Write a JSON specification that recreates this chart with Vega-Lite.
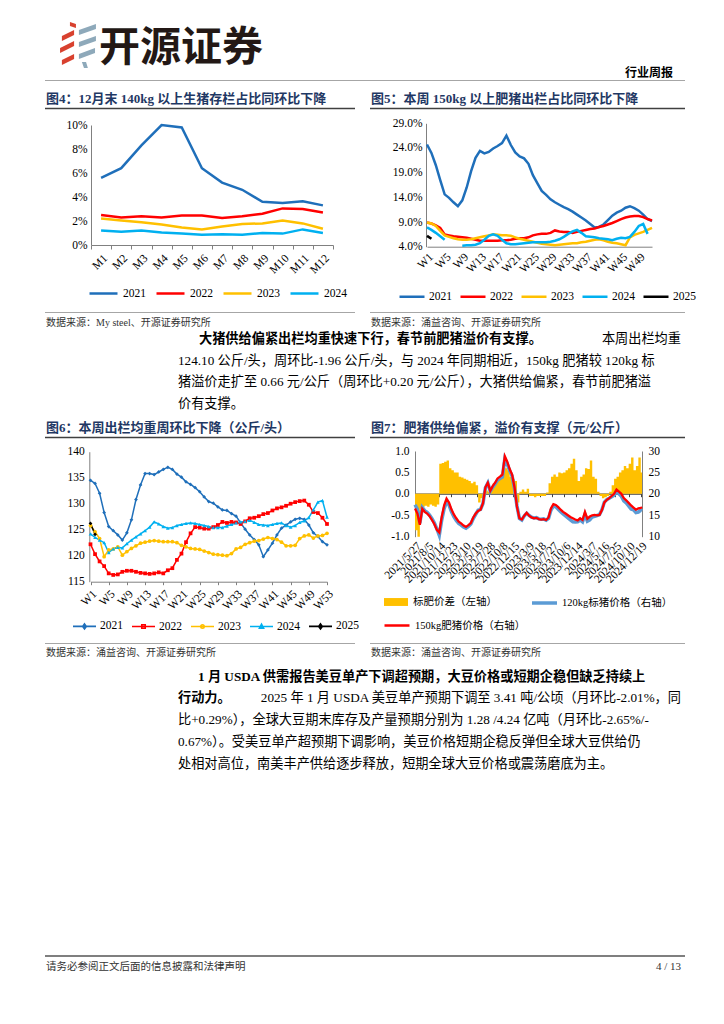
{
"$schema":"https://vega.github.io/schema/vega-lite/v6.json",
"width":724,"height":1024,"autosize":{"type":"none"},"padding":0,"background":"white",
"data":{"values":[{}]},
"config":{"view":{"stroke":null},
"axis":{"grid":false,"labelFont":"Liberation Serif","labelFontSize":11.5,"labelColor":"#000000","domainColor":"#808080","tickColor":"#808080","labelFlush":false,"labelOverlap":false,"labelBound":false,"title":null},
"legend":{"labelFont":"Liberation Serif, Noto Sans CJK SC","labelFontSize":11.5,"labelColor":"#000000","padding":0,"title":null}},
"resolve":{"scale":{"x":"independent","y":"independent","color":"independent","shape":"independent"},"axis":{"x":"independent","y":"independent"},"legend":{"color":"independent","shape":"independent"}},
"layer":[
{"mark":{"type":"point","filled":true,"color":"#D8412F","opacity":1,"shape":"M-0.70,-0.35L-0.17,-0.61L-0.17,-0.39L-0.70,-0.13Z M-0.78,0.17L-0.17,-0.13L-0.17,0.09L-0.78,0.39Z M-0.70,0.70L-0.17,0.43L-0.17,0.65L-0.70,0.91Z M-0.35,-0.96L-0.09,-0.87L-0.09,-0.70L-0.35,-0.78Z"},"encoding":{"x":{"value":78},"y":{"value":44},"size":{"value":2116}}},
{"mark":{"type":"point","filled":true,"color":"#8EA9BA","opacity":1,"shape":"M0.04,-0.61L0.78,-0.87L0.78,-0.65L0.04,-0.39Z M0.04,-0.09L0.78,-0.35L0.78,-0.13L0.04,0.13Z M0.04,0.43L0.74,0.17L0.74,0.39L0.04,0.65Z M0.17,0.78L0.35,0.78L0.43,1.04L0.26,1.04Z"},"encoding":{"x":{"value":78},"y":{"value":44},"size":{"value":2116}}},
{"mark":{"type":"text","align":"left","baseline":"alphabetic","font":"Noto Sans CJK SC","fontSize":41,"fontWeight":"bold","color":"#231815"},"encoding":{"x":{"value":99},"y":{"value":61},"text":{"value":"开源证券"}}},
{"mark":{"type":"text","align":"right","baseline":"alphabetic","font":"Noto Sans CJK SC","fontSize":12,"fontWeight":"bold","color":"#000000"},"encoding":{"x":{"value":673},"y":{"value":77},"text":{"value":"行业周报"}}},
{"mark":{"type":"rule","color":"#A6A6A6","strokeWidth":1.2},"encoding":{"x":{"value":45},"x2":{"value":685},"y":{"value":80.5}}},

{"mark":{"type":"text","align":"left","baseline":"alphabetic","font":"Liberation Serif, Noto Sans CJK SC","fontSize":13,"fontWeight":"bold","color":"#1F3864"},"encoding":{"x":{"value":46},"y":{"value":102.5},"text":{"value":"图4：12月末 140kg 以上生猪存栏占比同环比下降"}}},
{"mark":{"type":"text","align":"left","baseline":"alphabetic","font":"Liberation Serif, Noto Sans CJK SC","fontSize":13,"fontWeight":"bold","color":"#1F3864"},"encoding":{"x":{"value":371},"y":{"value":102.5},"text":{"value":"图5：本周 150kg 以上肥猪出栏占比同环比下降"}}},
{"mark":{"type":"rule","color":"#404040","strokeWidth":1.3},"encoding":{"x":{"value":45},"x2":{"value":355},"y":{"value":108.5}}},
{"mark":{"type":"rule","color":"#404040","strokeWidth":1.3},"encoding":{"x":{"value":370},"x2":{"value":685},"y":{"value":108.5}}},
{"mark":{"type":"rule","color":"#A6A6A6","strokeWidth":1},"encoding":{"x":{"value":45},"x2":{"value":355},"y":{"value":312.5}}},
{"mark":{"type":"rule","color":"#A6A6A6","strokeWidth":1},"encoding":{"x":{"value":370},"x2":{"value":685},"y":{"value":312.5}}},
{"mark":{"type":"text","align":"left","baseline":"alphabetic","font":"Liberation Serif, Noto Sans CJK SC","fontSize":10,"color":"#333333"},"encoding":{"x":{"value":46},"y":{"value":325.5},"text":{"value":"数据来源：My steel、开源证券研究所"}}},
{"mark":{"type":"text","align":"left","baseline":"alphabetic","font":"Liberation Serif, Noto Sans CJK SC","fontSize":10,"color":"#333333"},"encoding":{"x":{"value":371},"y":{"value":325.5},"text":{"value":"数据来源：涌益咨询、开源证券研究所"}}},

{"mark":{"type":"text","align":"left","baseline":"alphabetic","font":"Liberation Serif, Noto Sans CJK SC","fontSize":13.2,"fontWeight":"bold","color":"#000000"},"encoding":{"x":{"value":199},"y":{"value":342.5},"text":{"value":"大猪供给偏紧出栏均重快速下行，春节前肥猪溢价有支撑。"}}},
{"mark":{"type":"text","align":"right","baseline":"alphabetic","font":"Liberation Serif, Noto Sans CJK SC","fontSize":13.2,"color":"#000000"},"encoding":{"x":{"value":681},"y":{"value":342.5},"text":{"value":"本周出栏均重"}}},
{"mark":{"type":"text","align":"left","baseline":"alphabetic","font":"Liberation Serif, Noto Sans CJK SC","fontSize":13.2,"lineHeight":21.8,"color":"#000000"},"encoding":{"x":{"value":178},"y":{"value":364.5},"text":{"value":["124.10 公斤/头，周环比-1.96 公斤/头，与 2024 年同期相近，150kg 肥猪较 120kg 标","猪溢价走扩至 0.66 元/公斤（周环比+0.20 元/公斤），大猪供给偏紧，春节前肥猪溢","价有支撑。"]}}},

{"mark":{"type":"text","align":"left","baseline":"alphabetic","font":"Liberation Serif, Noto Sans CJK SC","fontSize":13,"fontWeight":"bold","color":"#1F3864"},"encoding":{"x":{"value":46},"y":{"value":431.5},"text":{"value":"图6：本周出栏均重周环比下降（公斤/头）"}}},
{"mark":{"type":"text","align":"left","baseline":"alphabetic","font":"Liberation Serif, Noto Sans CJK SC","fontSize":13,"fontWeight":"bold","color":"#1F3864"},"encoding":{"x":{"value":371},"y":{"value":431.5},"text":{"value":"图7：肥猪供给偏紧，溢价有支撑（元/公斤）"}}},
{"mark":{"type":"rule","color":"#404040","strokeWidth":1.3},"encoding":{"x":{"value":45},"x2":{"value":355},"y":{"value":437.5}}},
{"mark":{"type":"rule","color":"#404040","strokeWidth":1.3},"encoding":{"x":{"value":370},"x2":{"value":685},"y":{"value":437.5}}},
{"mark":{"type":"rule","color":"#A6A6A6","strokeWidth":1},"encoding":{"x":{"value":45},"x2":{"value":355},"y":{"value":643.5}}},
{"mark":{"type":"rule","color":"#A6A6A6","strokeWidth":1},"encoding":{"x":{"value":370},"x2":{"value":685},"y":{"value":643.5}}},
{"mark":{"type":"text","align":"left","baseline":"alphabetic","font":"Liberation Serif, Noto Sans CJK SC","fontSize":10,"color":"#333333"},"encoding":{"x":{"value":46},"y":{"value":655.5},"text":{"value":"数据来源：涌益咨询、开源证券研究所"}}},
{"mark":{"type":"text","align":"left","baseline":"alphabetic","font":"Liberation Serif, Noto Sans CJK SC","fontSize":10,"color":"#333333"},"encoding":{"x":{"value":371},"y":{"value":655.5},"text":{"value":"数据来源：涌益咨询、开源证券研究所"}}},

{"mark":{"type":"text","align":"left","baseline":"alphabetic","font":"Liberation Serif, Noto Sans CJK SC","fontSize":13.2,"fontWeight":"bold","color":"#000000"},"encoding":{"x":{"value":198},"y":{"value":680.5},"text":{"value":"1 月 USDA 供需报告美豆单产下调超预期，大豆价格或短期企稳但缺乏持续上"}}},
{"mark":{"type":"text","align":"left","baseline":"alphabetic","font":"Liberation Serif, Noto Sans CJK SC","fontSize":13.2,"fontWeight":"bold","color":"#000000"},"encoding":{"x":{"value":178},"y":{"value":702.3},"text":{"value":"行动力。"}}},
{"mark":{"type":"text","align":"right","baseline":"alphabetic","font":"Liberation Serif, Noto Sans CJK SC","fontSize":13.2,"color":"#000000"},"encoding":{"x":{"value":681},"y":{"value":702.3},"text":{"value":"2025 年 1 月 USDA 美豆单产预期下调至 3.41 吨/公顷（月环比-2.01%，同"}}},
{"mark":{"type":"text","align":"left","baseline":"alphabetic","font":"Liberation Serif, Noto Sans CJK SC","fontSize":13.2,"lineHeight":21.8,"color":"#000000"},"encoding":{"x":{"value":178},"y":{"value":724.1},"text":{"value":["比+0.29%），全球大豆期末库存及产量预期分别为 1.28 /4.24 亿吨（月环比-2.65%/-","0.67%）。受美豆单产超预期下调影响，美豆价格短期企稳反弹但全球大豆供给仍","处相对高位，南美丰产供给逐步释放，短期全球大豆价格或震荡磨底为主。"]}}},

{"mark":{"type":"rule","color":"#7F7F7F","strokeWidth":2},"encoding":{"x":{"value":45},"x2":{"value":685},"y":{"value":956}}},
{"mark":{"type":"text","align":"left","baseline":"alphabetic","font":"Liberation Serif, Noto Sans CJK SC","fontSize":10.5,"color":"#333333"},"encoding":{"x":{"value":46},"y":{"value":970},"text":{"value":"请务必参阅正文后面的信息披露和法律声明"}}},
{"mark":{"type":"text","align":"right","baseline":"alphabetic","font":"Liberation Serif","fontSize":11,"color":"#333333"},"encoding":{"x":{"value":681},"y":{"value":970},"text":{"value":"4 / 13"}}},

{"data":{"values":[
{"m":"M1","y":"2021","v":5.6},{"m":"M2","y":"2021","v":6.4},{"m":"M3","y":"2021","v":8.3},{"m":"M4","y":"2021","v":10.0},{"m":"M5","y":"2021","v":9.8},{"m":"M6","y":"2021","v":6.4},{"m":"M7","y":"2021","v":5.2},{"m":"M8","y":"2021","v":4.6},{"m":"M9","y":"2021","v":3.6},{"m":"M10","y":"2021","v":3.5},{"m":"M11","y":"2021","v":3.65},{"m":"M12","y":"2021","v":3.3},
{"m":"M1","y":"2022","v":2.5},{"m":"M2","y":"2022","v":2.3},{"m":"M3","y":"2022","v":2.4},{"m":"M4","y":"2022","v":2.3},{"m":"M5","y":"2022","v":2.45},{"m":"M6","y":"2022","v":2.45},{"m":"M7","y":"2022","v":2.25},{"m":"M8","y":"2022","v":2.4},{"m":"M9","y":"2022","v":2.6},{"m":"M10","y":"2022","v":3.05},{"m":"M11","y":"2022","v":3.0},{"m":"M12","y":"2022","v":2.7},
{"m":"M1","y":"2023","v":2.2},{"m":"M2","y":"2023","v":2.05},{"m":"M3","y":"2023","v":1.9},{"m":"M4","y":"2023","v":1.7},{"m":"M5","y":"2023","v":1.45},{"m":"M6","y":"2023","v":1.3},{"m":"M7","y":"2023","v":1.55},{"m":"M8","y":"2023","v":1.75},{"m":"M9","y":"2023","v":1.8},{"m":"M10","y":"2023","v":2.05},{"m":"M11","y":"2023","v":1.8},{"m":"M12","y":"2023","v":1.35},
{"m":"M1","y":"2024","v":1.2},{"m":"M2","y":"2024","v":1.1},{"m":"M3","y":"2024","v":1.2},{"m":"M4","y":"2024","v":1.05},{"m":"M5","y":"2024","v":0.95},{"m":"M6","y":"2024","v":0.85},{"m":"M7","y":"2024","v":0.9},{"m":"M8","y":"2024","v":0.85},{"m":"M9","y":"2024","v":1.0},{"m":"M10","y":"2024","v":0.95},{"m":"M11","y":"2024","v":1.3},{"m":"M12","y":"2024","v":1.0}]},
"mark":{"type":"line","strokeWidth":2.5},
"encoding":{
"x":{"field":"m","type":"ordinal","sort":null,"title":null,"scale":{"type":"band","range":[91,333],"paddingInner":0,"paddingOuter":0},"axis":{"orient":"bottom","offset":-779,"labelAngle":-45,"tickBand":"extent","ticks":true,"tickSize":4,"labelPadding":3}},
"y":{"field":"v","type":"quantitative","title":null,"scale":{"domain":[0,10],"range":[245,125],"nice":false,"zero":false},"axis":{"orient":"left","offset":-91,"values":[0,2,4,6,8,10],"labelExpr":"datum.value + '%'","ticks":false,"labelPadding":4}},
"color":{"field":"y","type":"nominal","title":null,"scale":{"domain":["2021","2022","2023","2024"],"range":["#1F6FBA","#FF0000","#FFC000","#00B0F0"]},"legend":{"orient":"none","legendX":88,"legendY":278,"direction":"horizontal","symbolType":"stroke","symbolSize":784,"symbolStrokeWidth":2.5,"labelOffset":4,"columnPadding":5}}}},

{"data":{"values":[
{"w":1,"y":"2021","v":24.7},{"w":2,"y":"2021","v":23},{"w":3,"y":"2021","v":20.5},{"w":4,"y":"2021","v":17.5},{"w":5,"y":"2021","v":14.6},{"w":6,"y":"2021","v":13.9},{"w":7,"y":"2021","v":13},{"w":8,"y":"2021","v":12.2},{"w":9,"y":"2021","v":13.4},{"w":10,"y":"2021","v":16},{"w":11,"y":"2021","v":19.3},{"w":12,"y":"2021","v":22},{"w":13,"y":"2021","v":23.4},{"w":14,"y":"2021","v":22.9},{"w":15,"y":"2021","v":23.2},{"w":16,"y":"2021","v":23.9},{"w":17,"y":"2021","v":24.4},{"w":18,"y":"2021","v":25},{"w":19,"y":"2021","v":26.5},{"w":20,"y":"2021","v":24.6},{"w":21,"y":"2021","v":23.1},{"w":22,"y":"2021","v":22.3},{"w":23,"y":"2021","v":21.9},{"w":24,"y":"2021","v":20.8},{"w":25,"y":"2021","v":18.5},{"w":26,"y":"2021","v":16.9},{"w":27,"y":"2021","v":15.3},{"w":28,"y":"2021","v":14.5},{"w":29,"y":"2021","v":13.6},{"w":30,"y":"2021","v":13},{"w":31,"y":"2021","v":12.5},{"w":32,"y":"2021","v":12},{"w":33,"y":"2021","v":11.6},{"w":34,"y":"2021","v":11.1},{"w":35,"y":"2021","v":10.5},{"w":36,"y":"2021","v":9.9},{"w":37,"y":"2021","v":9.3},{"w":38,"y":"2021","v":8.6},{"w":39,"y":"2021","v":7.9},{"w":40,"y":"2021","v":8},{"w":41,"y":"2021","v":8.5},{"w":42,"y":"2021","v":9.4},{"w":43,"y":"2021","v":10.3},{"w":44,"y":"2021","v":10.9},{"w":45,"y":"2021","v":11.3},{"w":46,"y":"2021","v":11.9},{"w":47,"y":"2021","v":12.2},{"w":48,"y":"2021","v":11.8},{"w":49,"y":"2021","v":11.3},{"w":50,"y":"2021","v":10.5},{"w":51,"y":"2021","v":9.6},{"w":52,"y":"2021","v":9.2},
{"w":1,"y":"2022","v":8.9},{"w":2,"y":"2022","v":8.7},{"w":3,"y":"2022","v":8.3},{"w":4,"y":"2022","v":7.8},{"w":5,"y":"2022","v":6.5},{"w":6,"y":"2022","v":6.3},{"w":7,"y":"2022","v":6.1},{"w":8,"y":"2022","v":6},{"w":9,"y":"2022","v":5.9},{"w":10,"y":"2022","v":5.8},{"w":11,"y":"2022","v":5.6},{"w":12,"y":"2022","v":5.4},{"w":13,"y":"2022","v":5.2},{"w":14,"y":"2022","v":5.2},{"w":15,"y":"2022","v":5.2},{"w":16,"y":"2022","v":5.2},{"w":17,"y":"2022","v":5.2},{"w":18,"y":"2022","v":5.3},{"w":19,"y":"2022","v":5.3},{"w":20,"y":"2022","v":5.4},{"w":21,"y":"2022","v":5.6},{"w":22,"y":"2022","v":5.7},{"w":23,"y":"2022","v":5.7},{"w":24,"y":"2022","v":5.9},{"w":25,"y":"2022","v":6.3},{"w":26,"y":"2022","v":6.5},{"w":27,"y":"2022","v":6.6},{"w":28,"y":"2022","v":6.6},{"w":29,"y":"2022","v":6.8},{"w":30,"y":"2022","v":7.3},{"w":31,"y":"2022","v":7.1},{"w":32,"y":"2022","v":7},{"w":33,"y":"2022","v":7},{"w":34,"y":"2022","v":6.8},{"w":35,"y":"2022","v":7},{"w":36,"y":"2022","v":7.2},{"w":37,"y":"2022","v":7.4},{"w":38,"y":"2022","v":7.6},{"w":39,"y":"2022","v":7.7},{"w":40,"y":"2022","v":8},{"w":41,"y":"2022","v":8.2},{"w":42,"y":"2022","v":8.5},{"w":43,"y":"2022","v":8.8},{"w":44,"y":"2022","v":9.2},{"w":45,"y":"2022","v":9.6},{"w":46,"y":"2022","v":9.9},{"w":47,"y":"2022","v":10.1},{"w":48,"y":"2022","v":10.2},{"w":49,"y":"2022","v":10.2},{"w":50,"y":"2022","v":10},{"w":51,"y":"2022","v":9.6},{"w":52,"y":"2022","v":9.3},
{"w":1,"y":"2023","v":8.9},{"w":2,"y":"2023","v":8.7},{"w":3,"y":"2023","v":8.2},{"w":4,"y":"2023","v":7.2},{"w":5,"y":"2023","v":6.3},{"w":6,"y":"2023","v":6},{"w":7,"y":"2023","v":5.7},{"w":8,"y":"2023","v":5.5},{"w":9,"y":"2023","v":5.4},{"w":10,"y":"2023","v":5.4},{"w":11,"y":"2023","v":5.5},{"w":12,"y":"2023","v":5.7},{"w":13,"y":"2023","v":5.9},{"w":14,"y":"2023","v":6.1},{"w":15,"y":"2023","v":6.3},{"w":16,"y":"2023","v":6.5},{"w":17,"y":"2023","v":6.4},{"w":18,"y":"2023","v":6.3},{"w":19,"y":"2023","v":6.3},{"w":20,"y":"2023","v":6.2},{"w":21,"y":"2023","v":5.9},{"w":22,"y":"2023","v":5.6},{"w":23,"y":"2023","v":5.4},{"w":24,"y":"2023","v":5.2},{"w":25,"y":"2023","v":5},{"w":26,"y":"2023","v":4.8},{"w":27,"y":"2023","v":4.6},{"w":28,"y":"2023","v":4.5},{"w":29,"y":"2023","v":4.4},{"w":30,"y":"2023","v":4.3},{"w":31,"y":"2023","v":4.4},{"w":32,"y":"2023","v":4.5},{"w":33,"y":"2023","v":4.6},{"w":34,"y":"2023","v":4.7},{"w":35,"y":"2023","v":4.7},{"w":36,"y":"2023","v":4.9},{"w":37,"y":"2023","v":5},{"w":38,"y":"2023","v":5.2},{"w":39,"y":"2023","v":5.4},{"w":40,"y":"2023","v":5.5},{"w":41,"y":"2023","v":5.3},{"w":42,"y":"2023","v":5},{"w":43,"y":"2023","v":4.8},{"w":44,"y":"2023","v":4.7},{"w":45,"y":"2023","v":4.5},{"w":46,"y":"2023","v":4.3},{"w":47,"y":"2023","v":5.9},{"w":48,"y":"2023","v":6.4},{"w":49,"y":"2023","v":6.7},{"w":50,"y":"2023","v":7},{"w":51,"y":"2023","v":7.4},{"w":52,"y":"2023","v":7.8},
{"w":1,"y":"2024","g":"a","v":7.9},{"w":2,"y":"2024","g":"a","v":7.4},{"w":3,"y":"2024","g":"a","v":6.8},{"w":4,"y":"2024","g":"a","v":6.1},{"w":5,"y":"2024","g":"a","v":5.4},
{"w":9,"y":"2024","g":"b","v":4.2},{"w":10,"y":"2024","g":"b","v":4.3},{"w":11,"y":"2024","g":"b","v":4.3},{"w":12,"y":"2024","g":"b","v":4.4},{"w":13,"y":"2024","g":"b","v":4.7},{"w":14,"y":"2024","g":"b","v":5.4},{"w":15,"y":"2024","g":"b","v":6.2},{"w":16,"y":"2024","g":"b","v":6.5},{"w":17,"y":"2024","g":"b","v":6.2},{"w":18,"y":"2024","g":"b","v":5.4},{"w":19,"y":"2024","g":"b","v":4.7},{"w":20,"y":"2024","g":"b","v":4.5},{"w":21,"y":"2024","g":"b","v":4.5},{"w":22,"y":"2024","g":"b","v":4.6},{"w":23,"y":"2024","g":"b","v":4.7},{"w":24,"y":"2024","g":"b","v":4.8},{"w":25,"y":"2024","g":"b","v":4.9},{"w":26,"y":"2024","g":"b","v":4.9},{"w":27,"y":"2024","g":"b","v":4.9},{"w":28,"y":"2024","g":"b","v":4.9},{"w":29,"y":"2024","g":"b","v":5},{"w":30,"y":"2024","g":"b","v":5.2},{"w":31,"y":"2024","g":"b","v":5.5},{"w":32,"y":"2024","g":"b","v":6},{"w":33,"y":"2024","g":"b","v":6.6},{"w":34,"y":"2024","g":"b","v":7.1},{"w":35,"y":"2024","g":"b","v":7.4},{"w":36,"y":"2024","g":"b","v":6.8},{"w":37,"y":"2024","g":"b","v":6.1},{"w":38,"y":"2024","g":"b","v":6},{"w":39,"y":"2024","g":"b","v":5.9},{"w":40,"y":"2024","g":"b","v":5.7},{"w":41,"y":"2024","g":"b","v":5.6},{"w":42,"y":"2024","g":"b","v":5.5},{"w":43,"y":"2024","g":"b","v":5.3},{"w":44,"y":"2024","g":"b","v":5.6},{"w":45,"y":"2024","g":"b","v":5.8},{"w":46,"y":"2024","g":"b","v":5.7},{"w":47,"y":"2024","g":"b","v":6},{"w":48,"y":"2024","g":"b","v":7},{"w":49,"y":"2024","g":"b","v":8.2},{"w":50,"y":"2024","g":"b","v":8.6},{"w":51,"y":"2024","g":"b","v":6.6},
{"w":1,"y":"2025","v":6.2},{"w":2,"y":"2025","v":5.6}]},
"mark":{"type":"line","strokeWidth":2.5},
"encoding":{
"x":{"field":"w","type":"quantitative","title":null,"scale":{"domain":[1,52],"range":[427,652],"nice":false,"zero":false},"axis":{"orient":"bottom","offset":-777.3,"values":[1,5,9,13,17,21,25,29,33,37,41,45,49],"labelExpr":"'W' + datum.value","labelAngle":-45,"ticks":false,"labelPadding":4}},
"y":{"field":"v","type":"quantitative","title":null,"scale":{"domain":[4,29],"range":[246.7,123.3],"nice":false,"zero":false},"axis":{"orient":"left","offset":-426,"values":[4,9,14,19,24,29],"labelExpr":"format(datum.value, '.1f') + '%'","ticks":false,"labelPadding":4}},
"detail":{"field":"g"},
"color":{"field":"y","type":"nominal","title":null,"scale":{"domain":["2021","2022","2023","2024","2025"],"range":["#1F6FBA","#FF0000","#FFC000","#00B0F0","#000000"]},"legend":{"orient":"none","legendX":398,"legendY":282.5,"direction":"horizontal","symbolType":"stroke","symbolSize":625,"symbolStrokeWidth":2.5,"labelOffset":3,"columnPadding":3}}}},

{"data":{"name":"f6","values":[
{"w":1,"y":"2021","v":134.5},{"w":2,"y":"2021","v":133.9},{"w":3,"y":"2021","v":132},{"w":4,"y":"2021","v":128.3},{"w":5,"y":"2021","v":125.6},{"w":6,"y":"2021","v":124.8},{"w":7,"y":"2021","v":124},{"w":8,"y":"2021","v":123},{"w":9,"y":"2021","v":124.4},{"w":10,"y":"2021","v":126.9},{"w":11,"y":"2021","v":130.8},{"w":12,"y":"2021","v":133.6},{"w":13,"y":"2021","v":135.8},{"w":14,"y":"2021","v":135.8},{"w":15,"y":"2021","v":135.6},{"w":16,"y":"2021","v":136.1},{"w":17,"y":"2021","v":136.6},{"w":18,"y":"2021","v":137},{"w":19,"y":"2021","v":136.6},{"w":20,"y":"2021","v":135.7},{"w":21,"y":"2021","v":135.1},{"w":22,"y":"2021","v":134.2},{"w":23,"y":"2021","v":133.7},{"w":24,"y":"2021","v":133.1},{"w":25,"y":"2021","v":132.3},{"w":26,"y":"2021","v":131.3},{"w":27,"y":"2021","v":130.4},{"w":28,"y":"2021","v":130.1},{"w":29,"y":"2021","v":129.4},{"w":30,"y":"2021","v":128.8},{"w":31,"y":"2021","v":128.7},{"w":32,"y":"2021","v":128.1},{"w":33,"y":"2021","v":127.6},{"w":34,"y":"2021","v":126.3},{"w":35,"y":"2021","v":125.1},{"w":36,"y":"2021","v":124},{"w":37,"y":"2021","v":123.1},{"w":38,"y":"2021","v":122.1},{"w":39,"y":"2021","v":119.8},{"w":40,"y":"2021","v":121.1},{"w":41,"y":"2021","v":122.4},{"w":42,"y":"2021","v":124},{"w":43,"y":"2021","v":125.3},{"w":44,"y":"2021","v":125.9},{"w":45,"y":"2021","v":126.5},{"w":46,"y":"2021","v":127},{"w":47,"y":"2021","v":127.2},{"w":48,"y":"2021","v":127},{"w":49,"y":"2021","v":125.9},{"w":50,"y":"2021","v":124.4},{"w":51,"y":"2021","v":123.7},{"w":52,"y":"2021","v":122.7},{"w":53,"y":"2021","v":122.1},
{"w":1,"y":"2022","v":122.2},{"w":2,"y":"2022","v":120.3},{"w":3,"y":"2022","v":118.9},{"w":4,"y":"2022","v":118},{"w":5,"y":"2022","v":116.6},{"w":6,"y":"2022","v":116.3},{"w":7,"y":"2022","v":116.4},{"w":8,"y":"2022","v":116.9},{"w":9,"y":"2022","v":117.1},{"w":10,"y":"2022","v":117.1},{"w":11,"y":"2022","v":116.9},{"w":12,"y":"2022","v":116.7},{"w":13,"y":"2022","v":116.6},{"w":14,"y":"2022","v":116.5},{"w":15,"y":"2022","v":116.6},{"w":16,"y":"2022","v":116.8},{"w":17,"y":"2022","v":116.6},{"w":18,"y":"2022","v":117.2},{"w":19,"y":"2022","v":117.6},{"w":20,"y":"2022","v":119.2},{"w":21,"y":"2022","v":120.4},{"w":22,"y":"2022","v":122.6},{"w":23,"y":"2022","v":124.3},{"w":24,"y":"2022","v":125.5},{"w":25,"y":"2022","v":125.4},{"w":26,"y":"2022","v":125.2},{"w":27,"y":"2022","v":125.2},{"w":28,"y":"2022","v":125.5},{"w":29,"y":"2022","v":125.9},{"w":30,"y":"2022","v":126.5},{"w":31,"y":"2022","v":126.3},{"w":32,"y":"2022","v":126.5},{"w":33,"y":"2022","v":126.4},{"w":34,"y":"2022","v":126.1},{"w":35,"y":"2022","v":126.6},{"w":36,"y":"2022","v":127.2},{"w":37,"y":"2022","v":127.3},{"w":38,"y":"2022","v":127.6},{"w":39,"y":"2022","v":128},{"w":40,"y":"2022","v":128.2},{"w":41,"y":"2022","v":128.7},{"w":42,"y":"2022","v":129.1},{"w":43,"y":"2022","v":129.3},{"w":44,"y":"2022","v":129.6},{"w":45,"y":"2022","v":130},{"w":46,"y":"2022","v":130.3},{"w":47,"y":"2022","v":130.5},{"w":48,"y":"2022","v":130.6},{"w":49,"y":"2022","v":129.8},{"w":50,"y":"2022","v":128.4},{"w":51,"y":"2022","v":128.2},{"w":52,"y":"2022","v":127.3},{"w":53,"y":"2022","v":126.1},
{"w":1,"y":"2023","v":125.8},{"w":2,"y":"2023","v":124.6},{"w":3,"y":"2023","v":123.3},{"w":4,"y":"2023","v":119.8},{"w":5,"y":"2023","v":121.1},{"w":6,"y":"2023","v":121.3},{"w":7,"y":"2023","v":121.7},{"w":8,"y":"2023","v":120.1},{"w":9,"y":"2023","v":120.8},{"w":10,"y":"2023","v":121.4},{"w":11,"y":"2023","v":121.9},{"w":12,"y":"2023","v":122.4},{"w":13,"y":"2023","v":122.6},{"w":14,"y":"2023","v":122.8},{"w":15,"y":"2023","v":122.9},{"w":16,"y":"2023","v":122.8},{"w":17,"y":"2023","v":122.7},{"w":18,"y":"2023","v":122.7},{"w":19,"y":"2023","v":122.7},{"w":20,"y":"2023","v":122.5},{"w":21,"y":"2023","v":122},{"w":22,"y":"2023","v":121.7},{"w":23,"y":"2023","v":121.4},{"w":24,"y":"2023","v":121.3},{"w":25,"y":"2023","v":121.2},{"w":26,"y":"2023","v":120.9},{"w":27,"y":"2023","v":120.6},{"w":28,"y":"2023","v":120.3},{"w":29,"y":"2023","v":120.2},{"w":30,"y":"2023","v":120.1},{"w":31,"y":"2023","v":120},{"w":32,"y":"2023","v":120.4},{"w":33,"y":"2023","v":121.3},{"w":34,"y":"2023","v":121.6},{"w":35,"y":"2023","v":122.2},{"w":36,"y":"2023","v":122.5},{"w":37,"y":"2023","v":122.8},{"w":38,"y":"2023","v":122.9},{"w":39,"y":"2023","v":123.2},{"w":40,"y":"2023","v":123.5},{"w":41,"y":"2023","v":123.3},{"w":42,"y":"2023","v":123.1},{"w":43,"y":"2023","v":122.6},{"w":44,"y":"2023","v":121.9},{"w":45,"y":"2023","v":121.9},{"w":46,"y":"2023","v":122},{"w":47,"y":"2023","v":123.3},{"w":48,"y":"2023","v":123.8},{"w":49,"y":"2023","v":124},{"w":50,"y":"2023","v":123.4},{"w":51,"y":"2023","v":123.8},{"w":52,"y":"2023","v":123.9},{"w":53,"y":"2023","v":124.3},
{"w":1,"y":"2024","v":124.2},{"w":2,"y":"2024","v":123.5},{"w":3,"y":"2024","v":123},{"w":4,"y":"2024","v":122.5},{"w":5,"y":"2024","v":120.6},{"w":6,"y":"2024","v":121.3},{"w":7,"y":"2024","v":121.6},{"w":8,"y":"2024","v":121.5},{"w":9,"y":"2024","v":122.3},{"w":10,"y":"2024","v":123},{"w":11,"y":"2024","v":123.6},{"w":12,"y":"2024","v":124.2},{"w":13,"y":"2024","v":124.8},{"w":14,"y":"2024","v":125.5},{"w":15,"y":"2024","v":126.5},{"w":16,"y":"2024","v":126.1},{"w":17,"y":"2024","v":125.6},{"w":18,"y":"2024","v":125.3},{"w":19,"y":"2024","v":125.4},{"w":20,"y":"2024","v":125.8},{"w":21,"y":"2024","v":126},{"w":22,"y":"2024","v":126.2},{"w":23,"y":"2024","v":126.3},{"w":24,"y":"2024","v":126.2},{"w":25,"y":"2024","v":126},{"w":26,"y":"2024","v":125.8},{"w":27,"y":"2024","v":125.6},{"w":28,"y":"2024","v":125.4},{"w":29,"y":"2024","v":125.4},{"w":30,"y":"2024","v":125.4},{"w":31,"y":"2024","v":125.7},{"w":32,"y":"2024","v":126},{"w":33,"y":"2024","v":126.3},{"w":34,"y":"2024","v":126.5},{"w":35,"y":"2024","v":126.6},{"w":36,"y":"2024","v":126.8},{"w":37,"y":"2024","v":126.4},{"w":38,"y":"2024","v":126},{"w":39,"y":"2024","v":125.9},{"w":40,"y":"2024","v":125.8},{"w":41,"y":"2024","v":126},{"w":42,"y":"2024","v":126.2},{"w":43,"y":"2024","v":126.3},{"w":44,"y":"2024","v":125.8},{"w":45,"y":"2024","v":125.5},{"w":46,"y":"2024","v":125.8},{"w":47,"y":"2024","v":126.4},{"w":48,"y":"2024","v":126.7},{"w":49,"y":"2024","v":127.3},{"w":50,"y":"2024","v":128.8},{"w":51,"y":"2024","v":130.3},{"w":52,"y":"2024","v":130.6},{"w":53,"y":"2024","v":127.4},
{"w":1,"y":"2025","v":126.2},{"w":2,"y":"2025","v":124.1}]},
"mark":{"type":"line","strokeWidth":1.5},
"encoding":{
"x":{"field":"w","type":"quantitative","title":null,"scale":{"domain":[1,53],"range":[90.5,327],"nice":false,"zero":false},"axis":{"orient":"bottom","offset":-442.3,"values":[1,5,9,13,17,21,25,29,33,37,41,45,49,53],"labelExpr":"'W' + datum.value","labelAngle":-45,"ticks":true,"tickSize":3,"labelPadding":3}},
"y":{"field":"v","type":"quantitative","title":null,"scale":{"domain":[115,140],"range":[581.7,451.7],"nice":false,"zero":false},"axis":{"orient":"left","offset":-89.3,"values":[115,120,125,130,135,140],"ticks":false,"labelPadding":5}},
"color":{"field":"y","type":"nominal","scale":{"domain":["2021","2022","2023","2024","2025"],"range":["#1F6FBA","#FF0000","#FFC000","#00B0F0","#000000"]},"legend":null}}},
{"data":{"name":"f6"},
"mark":{"type":"point","filled":true,"opacity":1,"size":14},
"encoding":{
"x":{"field":"w","type":"quantitative","scale":{"domain":[1,53],"range":[90.5,327],"nice":false,"zero":false},"axis":null},
"y":{"field":"v","type":"quantitative","scale":{"domain":[115,140],"range":[581.7,451.7],"nice":false,"zero":false},"axis":null},
"color":{"field":"y","type":"nominal","scale":{"domain":["2021","2022","2023","2024","2025"],"range":["#1F6FBA","#FF0000","#FFC000","#00B0F0","#000000"]},"legend":null},
"shape":{"field":"y","type":"nominal","scale":{"domain":["2021","2022","2023","2024","2025"],"range":["diamond","square","circle","triangle-up","diamond"]},"legend":null}}},
{"data":{"values":[]},
"mark":{"type":"point","filled":false,"opacity":1},
"encoding":{
"color":{"field":"y","type":"nominal","title":null,"scale":{"domain":["2021","2022","2023","2024","2025"],"range":["#1F6FBA","#FF0000","#FFC000","#00B0F0","#000000"]},"legend":{"orient":"none","legendX":72,"legendY":613.5,"direction":"horizontal","symbolSize":529,"symbolStrokeWidth":1.6,"labelOffset":3,"columnPadding":5}},
"shape":{"field":"y","type":"nominal","title":null,"scale":{"domain":["2021","2022","2023","2024","2025"],"range":["M-1,0L1,0M0,-0.22L0.16,0L0,0.22L-0.16,0Z","M-1,0L1,0M-0.15,-0.15L0.15,-0.15L0.15,0.15L-0.15,0.15Z","M-1,0L1,0M-0.15,0A0.15,0.15 0 1,0 0.15,0A0.15,0.15 0 1,0 -0.15,0Z","M-1,0L1,0M0,-0.2L0.18,0.14L-0.18,0.14Z","M-1,0L1,0M0,-0.22L0.16,0L0,0.22L-0.16,0Z"]},"legend":{"orient":"none","legendX":72,"legendY":613.5,"direction":"horizontal","symbolSize":529,"symbolStrokeWidth":1.6,"labelOffset":3,"columnPadding":5}}}},

{"data":{"name":"f7","values":[
{"d":"2021-05-27","s":-0.85,"b":16.6,"a":17.45},{"d":"2021-06-10","s":-1.0,"b":15.4,"a":16.4},{"d":"2021-06-24","s":-0.35,"b":12.8,"a":13.15},{"d":"2021-07-08","s":-0.3,"b":16.5,"a":16.8},{"d":"2021-07-22","s":-0.28,"b":15.8,"a":16.08},{"d":"2021-08-05","s":-0.3,"b":15.4,"a":15.7},{"d":"2021-08-19","s":-0.25,"b":14.8,"a":15.05},{"d":"2021-09-02","s":-0.28,"b":13.9,"a":14.18},{"d":"2021-09-16","s":-0.3,"b":12.9,"a":13.2},{"d":"2021-09-30","s":-0.25,"b":11.6,"a":11.85},{"d":"2021-10-14","s":0.7,"b":11.0,"a":10.3},{"d":"2021-10-28","s":0.72,"b":14.6,"a":13.88},{"d":"2021-11-11","s":0.75,"b":17.3,"a":16.55},{"d":"2021-11-25","s":0.78,"b":18.9,"a":18.12},{"d":"2021-12-09","s":0.6,"b":18.0,"a":17.4},{"d":"2021-12-23","s":0.55,"b":16.4,"a":15.85},
{"d":"2022-01-06","s":0.5,"b":15.2,"a":14.7},{"d":"2022-01-20","s":0.5,"b":14.3,"a":13.8},{"d":"2022-02-03","s":0.4,"b":13.5,"a":13.1},{"d":"2022-02-17","s":0.38,"b":13.1,"a":12.72},{"d":"2022-03-03","s":0.35,"b":12.6,"a":12.25},{"d":"2022-03-17","s":0.33,"b":12.3,"a":11.97},{"d":"2022-03-31","s":0.3,"b":12.7,"a":12.4},{"d":"2022-04-14","s":0.25,"b":13.2,"a":12.95},{"d":"2022-04-28","s":0.28,"b":14.5,"a":14.22},{"d":"2022-05-12","s":0.2,"b":15.4,"a":15.2},{"d":"2022-05-26","s":-0.2,"b":16.0,"a":16.2},{"d":"2022-06-09","s":-0.1,"b":16.3,"a":16.4},{"d":"2022-06-23","s":0.05,"b":17.8,"a":17.75},{"d":"2022-07-07","s":0.08,"b":21.5,"a":21.42},{"d":"2022-07-21","s":0.05,"b":22.6,"a":22.55},{"d":"2022-08-04","s":0.1,"b":20.7,"a":20.6},{"d":"2022-08-18","s":0.25,"b":21.8,"a":21.55},{"d":"2022-09-01","s":0.32,"b":22.6,"a":22.28},{"d":"2022-09-15","s":0.38,"b":23.6,"a":23.22},{"d":"2022-09-29","s":0.45,"b":24.0,"a":23.55},{"d":"2022-10-13","s":0.55,"b":24.5,"a":23.95},{"d":"2022-10-27","s":0.6,"b":28.8,"a":28.2},{"d":"2022-11-10","s":0.55,"b":27.5,"a":26.95},{"d":"2022-11-24","s":0.4,"b":25.8,"a":25.4},{"d":"2022-12-08","s":0.35,"b":24.5,"a":24.15},{"d":"2022-12-22","s":0.3,"b":21.5,"a":21.2},
{"d":"2023-01-05","s":-0.2,"b":17.0,"a":17.2},{"d":"2023-01-19","s":0.05,"b":14.3,"a":14.25},{"d":"2023-02-02","s":0.1,"b":14.0,"a":13.9},{"d":"2023-02-16","s":0.05,"b":14.9,"a":14.85},{"d":"2023-03-02","s":0.12,"b":15.6,"a":15.48},{"d":"2023-03-16","s":-0.05,"b":14.9,"a":14.95},{"d":"2023-03-30","s":-0.05,"b":14.5,"a":14.55},{"d":"2023-04-13","s":-0.08,"b":14.3,"a":14.38},{"d":"2023-04-27","s":-0.05,"b":14.4,"a":14.45},{"d":"2023-05-11","s":-0.05,"b":14.1,"a":14.15},{"d":"2023-05-25","s":-0.05,"b":14.0,"a":14.05},{"d":"2023-06-08","s":-0.05,"b":14.1,"a":14.15},{"d":"2023-06-22","s":0.03,"b":13.9,"a":13.87},{"d":"2023-07-06","s":0.25,"b":14.5,"a":14.25},{"d":"2023-07-20","s":0.4,"b":16.6,"a":16.2},{"d":"2023-08-03","s":0.45,"b":17.6,"a":17.15},{"d":"2023-08-17","s":0.4,"b":17.4,"a":17.0},{"d":"2023-08-31","s":0.5,"b":16.9,"a":16.4},{"d":"2023-09-14","s":0.48,"b":16.3,"a":15.82},{"d":"2023-09-28","s":0.5,"b":15.8,"a":15.3},{"d":"2023-10-12","s":0.55,"b":15.4,"a":14.85},{"d":"2023-10-26","s":0.6,"b":15.0,"a":14.4},{"d":"2023-11-09","s":0.7,"b":14.6,"a":13.9},{"d":"2023-11-23","s":0.82,"b":14.3,"a":13.48},{"d":"2023-12-07","s":0.55,"b":14.0,"a":13.45},{"d":"2023-12-21","s":0.3,"b":13.8,"a":13.5},
{"d":"2024-01-04","s":0.4,"b":14.3,"a":13.9},{"d":"2024-01-18","s":0.45,"b":13.9,"a":13.45},{"d":"2024-02-01","s":0.6,"b":15.8,"a":15.2},{"d":"2024-02-15","s":0.58,"b":14.2,"a":13.62},{"d":"2024-02-29","s":0.78,"b":14.7,"a":13.92},{"d":"2024-03-14","s":0.4,"b":15.0,"a":14.6},{"d":"2024-03-28","s":0.35,"b":15.1,"a":14.75},{"d":"2024-04-11","s":0.05,"b":15.0,"a":14.95},{"d":"2024-04-25","s":-0.05,"b":15.1,"a":15.15},{"d":"2024-05-09","s":-0.1,"b":16.2,"a":16.3},{"d":"2024-05-23","s":-0.08,"b":18.0,"a":18.08},{"d":"2024-06-06","s":-0.05,"b":18.6,"a":18.65},{"d":"2024-06-20","s":0.05,"b":19.0,"a":18.95},{"d":"2024-07-04","s":0.2,"b":19.5,"a":19.3},{"d":"2024-07-18","s":0.35,"b":20.0,"a":19.65},{"d":"2024-08-01","s":0.4,"b":21.0,"a":20.6},{"d":"2024-08-15","s":0.5,"b":20.5,"a":20.0},{"d":"2024-08-29","s":0.55,"b":20.0,"a":19.45},{"d":"2024-09-12","s":0.65,"b":19.0,"a":18.35},{"d":"2024-09-26","s":0.6,"b":18.5,"a":17.9},{"d":"2024-10-10","s":0.7,"b":17.9,"a":17.2},{"d":"2024-10-24","s":0.85,"b":17.3,"a":16.45},{"d":"2024-11-07","s":0.55,"b":16.8,"a":16.25},{"d":"2024-11-21","s":0.65,"b":16.3,"a":15.65},{"d":"2024-12-05","s":0.85,"b":16.6,"a":15.75},{"d":"2024-12-19","s":0.5,"b":16.7,"a":16.2},{"d":"2024-12-26","s":0.9,"b":16.9,"a":16.0}]},
"mark":{"type":"area","interpolate":"step-after","color":"#FFC000"},
"encoding":{
"x":{"field":"d","type":"temporal","title":null,"scale":{"type":"utc","domain":[{"year":2021,"month":5,"date":27,"utc":true},{"year":2024,"month":12,"date":26,"utc":true}],"range":[415,642],"nice":false},"axis":{"orient":"bottom","offset":-530.3,"values":[{"year":2021,"month":5,"date":27,"utc":true},{"year":2021,"month":8,"date":5,"utc":true},{"year":2021,"month":10,"date":14,"utc":true},{"year":2021,"month":12,"date":23,"utc":true},{"year":2022,"month":3,"date":10,"utc":true},{"year":2022,"month":5,"date":19,"utc":true},{"year":2022,"month":7,"date":28,"utc":true},{"year":2022,"month":10,"date":8,"utc":true},{"year":2022,"month":12,"date":15,"utc":true},{"year":2023,"month":3,"date":9,"utc":true},{"year":2023,"month":5,"date":18,"utc":true},{"year":2023,"month":7,"date":27,"utc":true},{"year":2023,"month":10,"date":6,"utc":true},{"year":2023,"month":12,"date":14,"utc":true},{"year":2024,"month":3,"date":7,"utc":true},{"year":2024,"month":5,"date":16,"utc":true},{"year":2024,"month":7,"date":25,"utc":true},{"year":2024,"month":10,"date":10,"utc":true},{"year":2024,"month":12,"date":19,"utc":true}],"labels":false,"ticks":true,"tickSize":3,"domain":true,"domainColor":"#404040","tickColor":"#404040","domainWidth":1.2}},
"y":{"field":"s","type":"quantitative","title":null,"scale":{"domain":[-1,1],"range":[536.7,451],"nice":false,"zero":false},"axis":{"orient":"left","offset":-415,"values":[-1,-0.5,0,0.5,1],"labelExpr":"datum.value < 0 ? '-' + format(-datum.value, '.1f') : format(datum.value, '.1f')","ticks":false,"labelPadding":6}},
"color":{"datum":"标肥价差（左轴）","type":"nominal","scale":{"range":["#FFC000"]},"legend":{"orient":"none","legendX":383,"legendY":589,"symbolType":"M-1,-0.33H1V0.33H-1Z","symbolSize":576,"labelFontSize":10.5,"labelOffset":4}}}},
{"data":{"name":"f7"},
"mark":{"type":"line","strokeWidth":3.5,"color":"#5B9BD5"},
"encoding":{
"x":{"field":"d","type":"temporal","title":null,"scale":{"type":"utc","domain":[{"year":2021,"month":5,"date":27,"utc":true},{"year":2024,"month":12,"date":26,"utc":true}],"range":[415,642],"nice":false},"axis":{"orient":"bottom","offset":-487.3,"values":[{"year":2021,"month":5,"date":27,"utc":true},{"year":2021,"month":8,"date":5,"utc":true},{"year":2021,"month":10,"date":14,"utc":true},{"year":2021,"month":12,"date":23,"utc":true},{"year":2022,"month":3,"date":10,"utc":true},{"year":2022,"month":5,"date":19,"utc":true},{"year":2022,"month":7,"date":28,"utc":true},{"year":2022,"month":10,"date":8,"utc":true},{"year":2022,"month":12,"date":15,"utc":true},{"year":2023,"month":3,"date":9,"utc":true},{"year":2023,"month":5,"date":18,"utc":true},{"year":2023,"month":7,"date":27,"utc":true},{"year":2023,"month":10,"date":6,"utc":true},{"year":2023,"month":12,"date":14,"utc":true},{"year":2024,"month":3,"date":7,"utc":true},{"year":2024,"month":5,"date":16,"utc":true},{"year":2024,"month":7,"date":25,"utc":true},{"year":2024,"month":10,"date":10,"utc":true},{"year":2024,"month":12,"date":19,"utc":true}],"format":"%Y/%-m/%-d","labelAngle":-45,"labelFontSize":11.5,"domain":false,"ticks":false,"labelPadding":3}},
"y":{"field":"a","type":"quantitative","title":null,"scale":{"domain":[10,30],"range":[536.7,451],"nice":false,"zero":false},"axis":{"orient":"right","offset":-82,"values":[10,15,20,25,30],"ticks":false,"labelPadding":6}},
"color":{"datum":"120kg标猪价格（右轴）","type":"nominal","scale":{"range":["#5B9BD5"]},"legend":{"orient":"none","legendX":530,"legendY":588.5,"symbolType":"stroke","symbolSize":625,"symbolStrokeWidth":3.5,"labelFontSize":10.5,"labelOffset":3}}}},
{"data":{"name":"f7"},
"mark":{"type":"line","strokeWidth":2.3,"color":"#FF0000"},
"encoding":{
"x":{"field":"d","type":"temporal","title":null,"scale":{"type":"utc","domain":[{"year":2021,"month":5,"date":27,"utc":true},{"year":2024,"month":12,"date":26,"utc":true}],"range":[415,642],"nice":false},"axis":null},
"y":{"field":"b","type":"quantitative","title":null,"scale":{"domain":[10,30],"range":[536.7,451],"nice":false,"zero":false},"axis":null},
"color":{"datum":"150kg肥猪价格（右轴）","type":"nominal","scale":{"range":["#FF0000"]},"legend":{"orient":"none","legendX":383,"legendY":611.5,"symbolType":"stroke","symbolSize":625,"symbolStrokeWidth":2.5,"labelFontSize":10.5,"labelOffset":4}}}}
]}
